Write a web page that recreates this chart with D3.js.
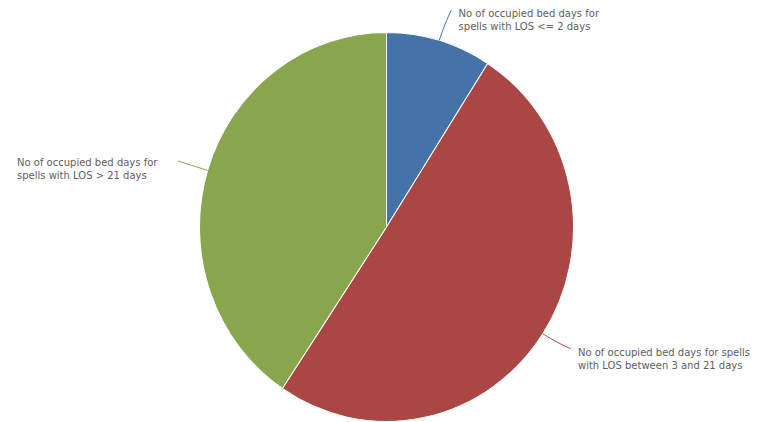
<!DOCTYPE html>
<html>
<head>
<meta charset="utf-8">
<script src="https://cdn.jsdelivr.net/npm/d3@7"></script>
<style>
  html, body { margin: 0; padding: 0; background: #ffffff; }
  svg { display: block; }
  .lbl { font-family: "DejaVu Sans", sans-serif; font-size: 10px; fill: #606060; }
</style>
</head>
<body>
<svg id="chart" width="762" height="422"></svg>
<script>
// Share of occupied bed days by length of stay (percent)
const categories = [
  ["No of occupied bed days for", "spells with LOS <= 2 days"],
  ["No of occupied bed days for spells", "with LOS between 3 and 21 days"],
  ["No of occupied bed days for", "spells with LOS > 21 days"]
];
const values = [9.1, 50.3, 40.6];
const colors = ["#4572A7", "#AA4643", "#89A54E"];

const width = 762, height = 422;
const cx = 386.5, cy = 227;
const radius = 187;
const squash = 1.04;          // slight vertical stretch of the plot
const connectorLen = 31;

const svg = d3.select("#chart");

const pie = d3.pie().sort(null).value(d => d)(values);
const arc = d3.arc().innerRadius(0).outerRadius(radius);

const g = svg.append("g")
  .attr("transform", `translate(${cx},${cy}) scale(1,${squash})`);

g.selectAll("path.slice")
  .data(pie)
  .join("path")
  .attr("class", "slice")
  .attr("d", arc)
  .attr("fill", (d, i) => colors[i])
  .attr("stroke", "#ffffff")
  .attr("stroke-width", 1)
  .attr("stroke-linejoin", "round");

// point on the pie (screen coords) at angle a and radius r
function pt(a, r) {
  return [cx + r * Math.sin(a), cy - r * Math.cos(a) * squash];
}

const line = d3.line().curve(d3.curveBasis);

pie.forEach((d, i) => {
  const mid = (d.startAngle + d.endAngle) / 2;
  const right = Math.sin(mid) >= 0;
  // connectors on the right bend slightly towards the horizontal
  const bend = right ? (Math.cos(mid) >= 0 ? 0.015 : -0.015) : 0;
  const p0 = pt(mid, radius);
  const p1 = pt(mid + bend * 0.3, radius + connectorLen * 0.55);
  const p2 = pt(mid + bend, radius + connectorLen);
  svg.append("path")
    .attr("d", line([p0, p1, p2]))
    .attr("fill", "none")
    .attr("stroke", colors[i])
    .attr("stroke-width", 1);

  const t = svg.append("text").attr("class", "lbl");
  categories[i].forEach((s, k) => {
    t.append("tspan").attr("dy", k === 0 ? 0 : 13).text(s);
  });
  const w = d3.max(t.selectAll("tspan").nodes(), n => n.getComputedTextLength());
  const x = right ? p2[0] + 7.5 : p2[0] - 20.5 - w;
  const y = right ? p2[1] + 7 : p2[1] + 5;
  t.attr("x", x).attr("y", y);
  t.selectAll("tspan").attr("x", x);
});
</script>
</body>
</html>
